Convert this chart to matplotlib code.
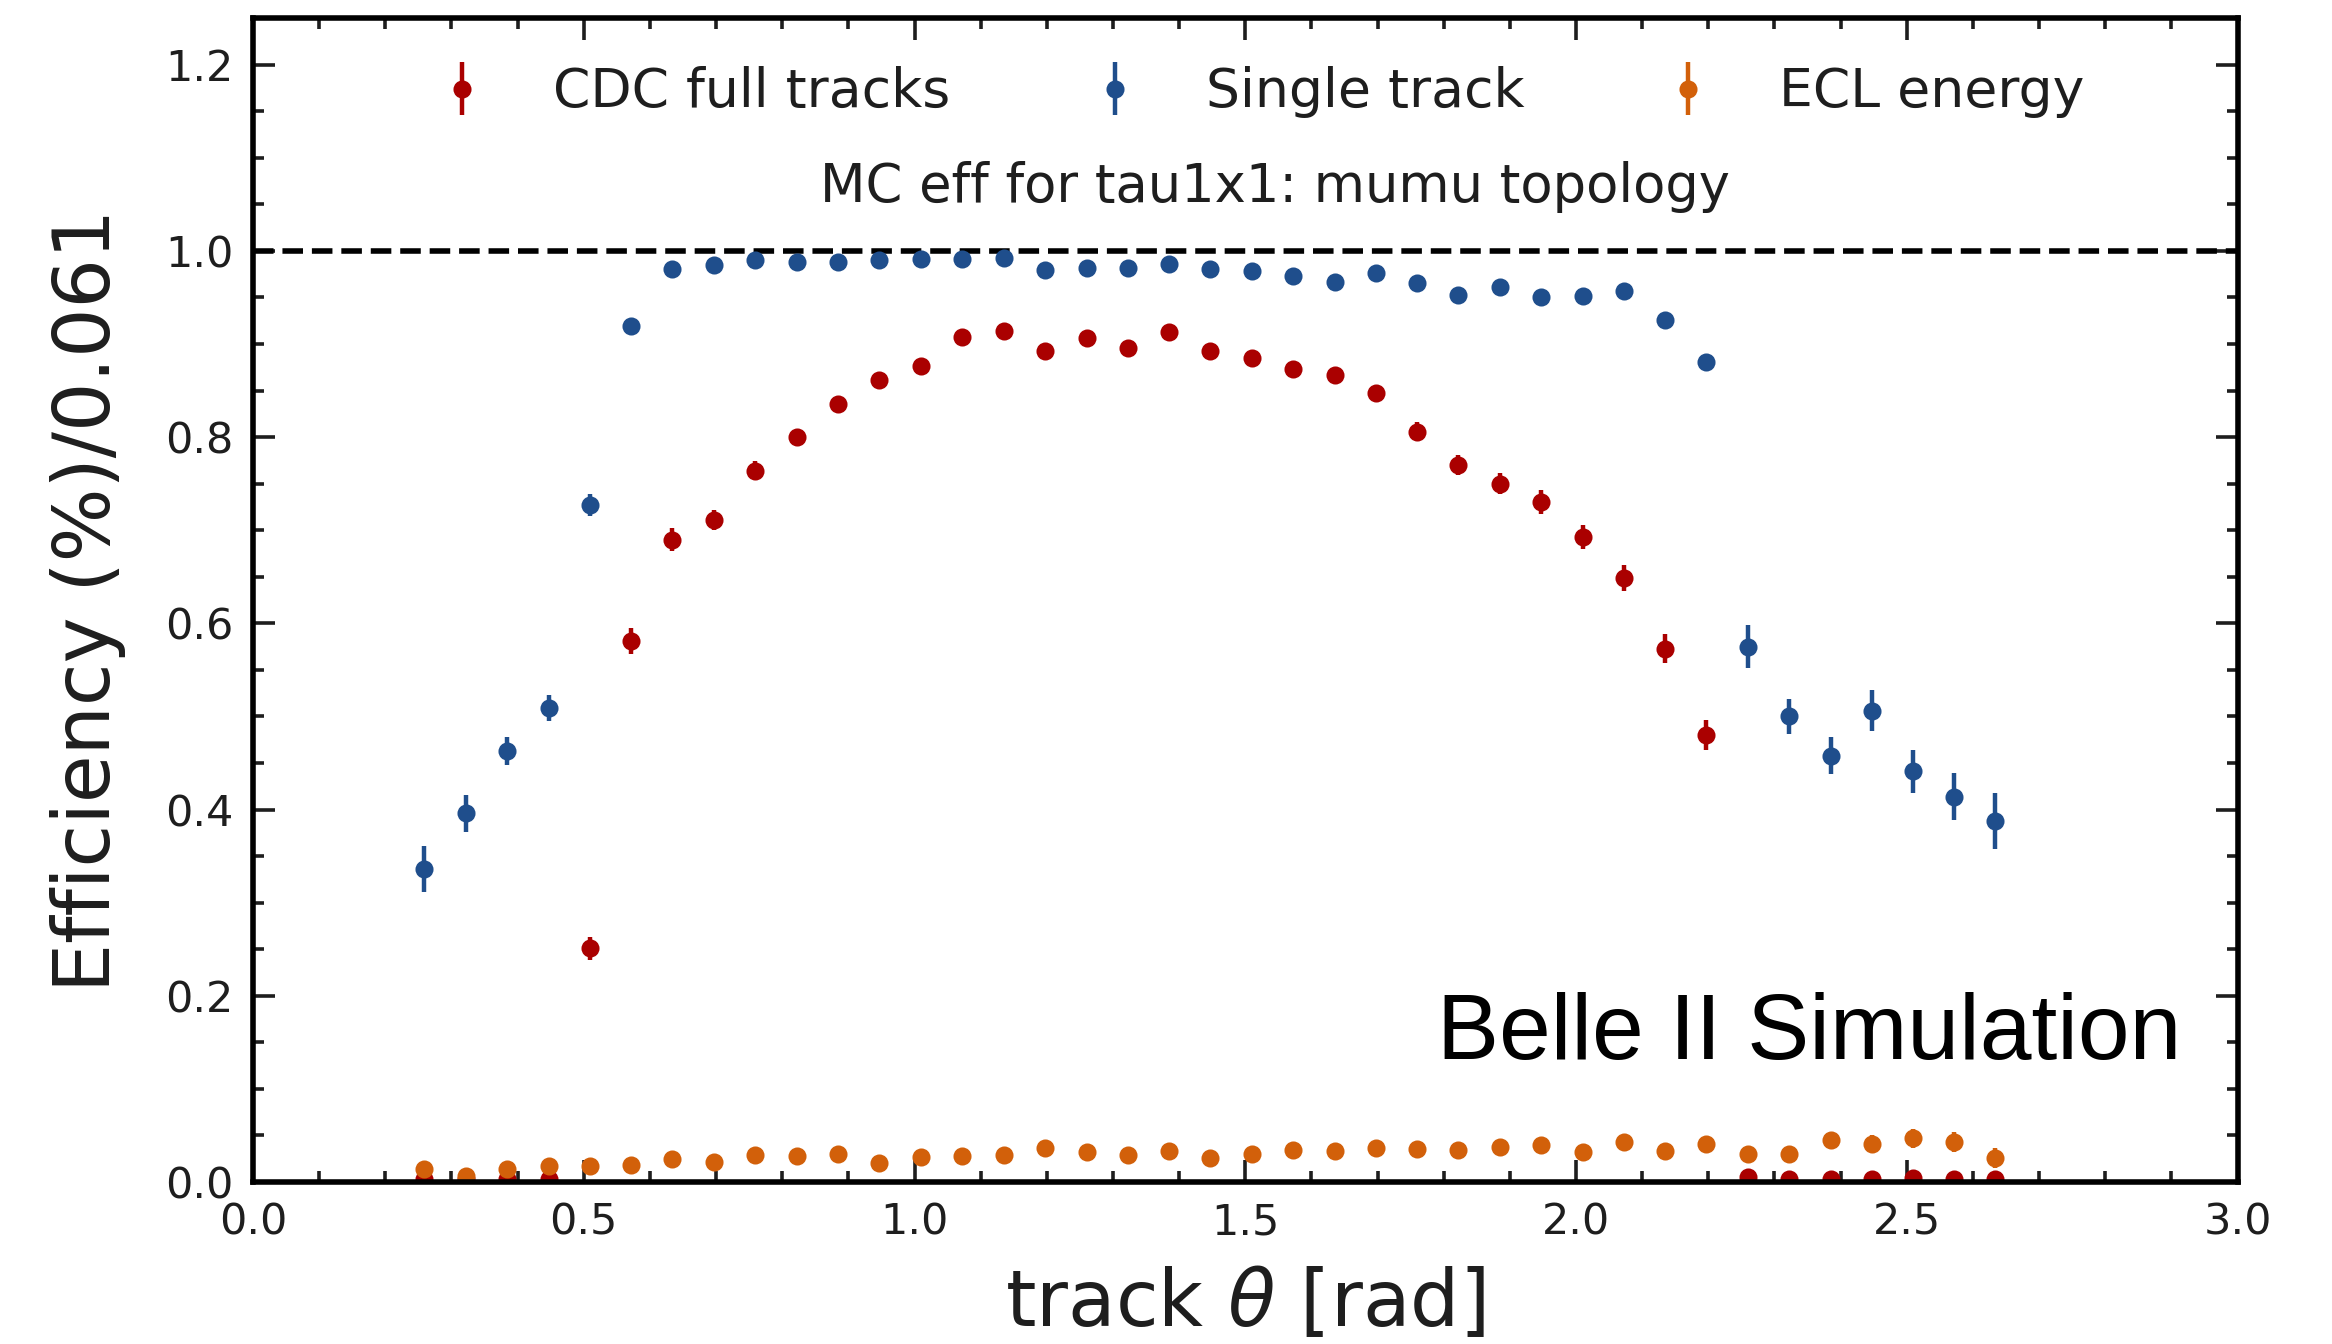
import numpy as np
import matplotlib
matplotlib.use("Agg")
import matplotlib.pyplot as plt
from matplotlib.ticker import MultipleLocator

# bin centres of track theta [rad]
theta = [0.259, 0.322, 0.384, 0.447, 0.509, 0.572, 0.634, 0.697, 0.759, 0.822,
         0.884, 0.947, 1.010, 1.072, 1.135, 1.197, 1.260, 1.322, 1.385, 1.447,
         1.510, 1.572, 1.635, 1.697, 1.760, 1.822, 1.885, 1.947, 2.010, 2.072,
         2.135, 2.197, 2.260, 2.322, 2.385, 2.447, 2.510, 2.572, 2.634]

cdc_eff = [0.003, 0.003, 0.003, 0.003, 0.251, 0.581, 0.690, 0.711, 0.764, 0.800,
           0.836, 0.861, 0.876, 0.908, 0.914, 0.893, 0.906, 0.896, 0.913, 0.892,
           0.885, 0.873, 0.867, 0.847, 0.806, 0.770, 0.750, 0.730, 0.693, 0.649,
           0.573, 0.480, 0.005, 0.003, 0.003, 0.003, 0.004, 0.003, 0.003]
cdc_err = [0.002, 0.002, 0.002, 0.002, 0.012, 0.014, 0.012, 0.011, 0.010, 0.009,
           0.008, 0.008, 0.007, 0.007, 0.006, 0.007, 0.006, 0.007, 0.006, 0.007,
           0.007, 0.008, 0.008, 0.009, 0.010, 0.011, 0.011, 0.013, 0.013, 0.014,
           0.016, 0.016, 0.004, 0.003, 0.003, 0.003, 0.004, 0.003, 0.003]

single_eff = [0.336, 0.396, 0.463, 0.509, 0.727, 0.919, 0.981, 0.985, 0.990, 0.988,
              0.988, 0.990, 0.991, 0.991, 0.992, 0.979, 0.982, 0.982, 0.986, 0.981,
              0.978, 0.973, 0.967, 0.976, 0.966, 0.953, 0.961, 0.950, 0.952, 0.957,
              0.926, 0.881, 0.575, 0.500, 0.458, 0.506, 0.441, 0.414, 0.388]
single_err = [0.025, 0.020, 0.015, 0.014, 0.012, 0.006, 0.003, 0.003, 0.003, 0.003,
              0.003, 0.003, 0.003, 0.003, 0.003, 0.003, 0.003, 0.003, 0.003, 0.003,
              0.003, 0.003, 0.003, 0.003, 0.004, 0.004, 0.004, 0.004, 0.004, 0.005,
              0.006, 0.008, 0.023, 0.019, 0.020, 0.022, 0.023, 0.025, 0.030]

ecl_eff = [0.014, 0.007, 0.014, 0.017, 0.017, 0.018, 0.025, 0.022, 0.029, 0.028,
           0.030, 0.020, 0.027, 0.028, 0.029, 0.037, 0.032, 0.029, 0.033, 0.026,
           0.030, 0.034, 0.033, 0.037, 0.035, 0.034, 0.038, 0.040, 0.032, 0.043,
           0.033, 0.041, 0.030, 0.030, 0.045, 0.041, 0.047, 0.043, 0.026]
ecl_err = [0.007, 0.004, 0.004, 0.004, 0.003, 0.003, 0.003, 0.003, 0.003, 0.003,
           0.003, 0.003, 0.003, 0.003, 0.003, 0.003, 0.003, 0.003, 0.003, 0.003,
           0.003, 0.003, 0.003, 0.003, 0.003, 0.003, 0.003, 0.003, 0.004, 0.004,
           0.004, 0.005, 0.009, 0.008, 0.009, 0.009, 0.010, 0.011, 0.011]

text_col = "#1e1e1e"
plt.rcParams["font.family"] = "DejaVu Sans"
plt.rcParams["text.color"] = text_col
plt.rcParams["axes.labelcolor"] = text_col
plt.rcParams["xtick.color"] = text_col
plt.rcParams["ytick.color"] = text_col

fig = plt.figure(figsize=(11.66, 6.72), dpi=200)
ax = fig.add_axes([0.1085, 0.1205, 0.851, 0.866])

style = dict(fmt="o", markersize=5.5, elinewidth=1.6, capsize=0, linestyle="none")
ax.errorbar(theta, cdc_eff, yerr=cdc_err, color="#aa0000", label="CDC full tracks", **style)
ax.errorbar(theta, single_eff, yerr=single_err, color="#1f4e8c", label="Single track", **style)
ax.errorbar(theta, ecl_eff, yerr=ecl_err, color="#d2600a", label="ECL energy", **style)

ax.axhline(1.0, color="black", linestyle="--", linewidth=2)

ax.set_xlim(0, 3)
ax.set_ylim(0, 1.25)
ax.xaxis.set_major_locator(MultipleLocator(0.5))
ax.xaxis.set_minor_locator(MultipleLocator(0.1))
ax.yaxis.set_major_locator(MultipleLocator(0.2))
ax.yaxis.set_minor_locator(MultipleLocator(0.05))
ax.tick_params(which="both", direction="in", top=True, right=True, labelsize=15.5, width=1.3)
ax.tick_params(which="major", length=8, pad=7)
ax.tick_params(which="minor", length=4)
for sp in ax.spines.values():
    sp.set_linewidth(2)

ax.set_xlabel(r"track $\theta$ [rad]", fontsize=28, labelpad=8)
ax.set_ylabel("Efficiency (%)/0.061", fontsize=28, labelpad=14)

ax.legend(loc="upper center", ncol=3, frameon=False, fontsize=19.3,
          handletextpad=0.7, columnspacing=2.06, bbox_to_anchor=(0.5007, 1.0))
ax.text(0.515, 1.069, "MC eff for tau1x1: mumu topology", fontsize=19,
        ha="center", va="center", transform=ax.get_yaxis_transform())
ax.text(0.9715, 0.106, "Belle II Simulation", fontsize=33.5, family="Liberation Sans",
        color="black", ha="right", va="baseline", transform=ax.transAxes)

fig.savefig("out.png", dpi=200)
